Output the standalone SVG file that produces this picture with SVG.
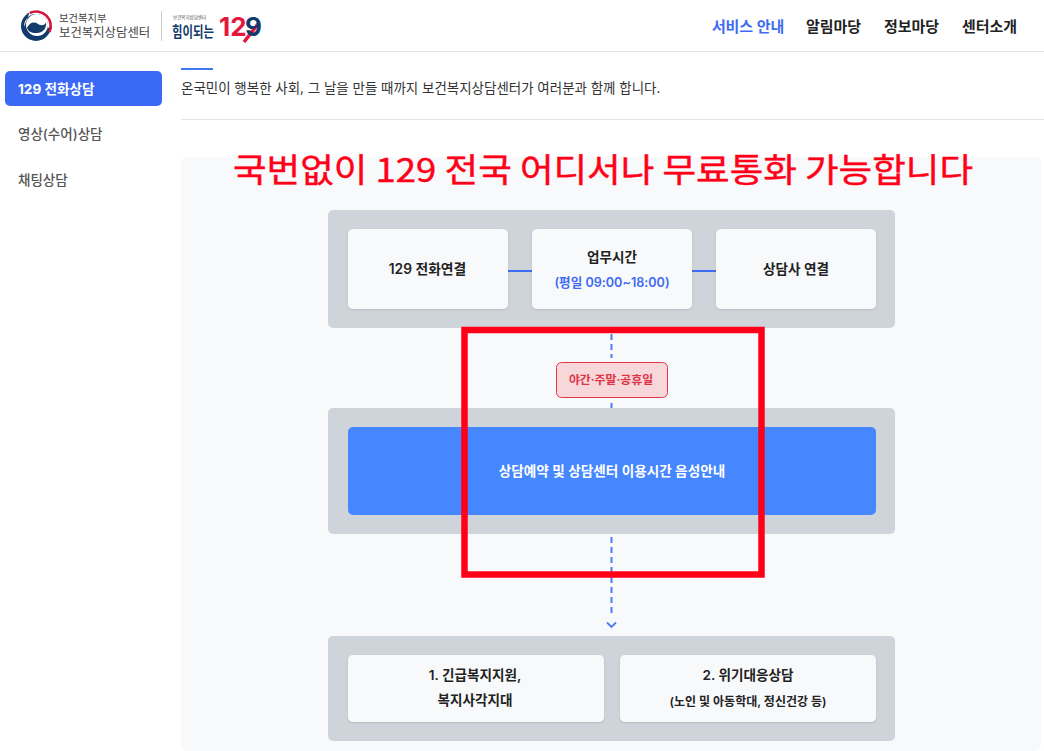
<svg xmlns="http://www.w3.org/2000/svg" width="1044" height="751" viewBox="0 0 1044 751">
<style>
text{font-family:"Inter","Noto Sans CJK KR",sans-serif;text-anchor:middle;fill:#222}
.b{font-weight:600;font-size:13.600px}
.gray{fill:#cfd4da}
.white{fill:#f8f9fb;filter:url(#sh)}
.nav{font-weight:600;font-size:15px;letter-spacing:-.1px}
.side{font-size:13.500px;fill:#555;font-weight:500;text-anchor:start}
.dash{stroke:#4d7cf5;stroke-width:2;stroke-dasharray:6 4;fill:none}
</style>
<defs><filter id="sh" x="-5%" y="-5%" width="110%" height="110%"><feDropShadow dx="0" dy="1" stdDeviation="1" flood-color="#000" flood-opacity=".12"/></filter></defs>
<rect width="1044" height="751" fill="#fff"/>
<g id="header">
<rect y="51" width="1044" height="1" fill="#e4e4e4"/>
<g id="emblem">
<circle cx="36" cy="26" r="15" fill="#123a6b"/>
<path d="M24 27C24 18 31 13.500 37 14C44 14.500 49 20 48 28L51.500 26A15.500 15.500 0 0 0 30 11.500Z" fill="#fff"/>
<circle cx="37" cy="25" r="11" fill="#fff"/>
<path d="M27 28C29 23 34 21 38 24C41 26 45 26 46 22C47 29 42 33.500 36 33C31 33 28 31 27 28Z" fill="#123a6b"/>
<path d="M30 13A14.500 14.500 0 0 1 49.500 32" stroke="#d4143a" stroke-width="2.600" fill="none"/>
</g>
<text x="59" y="22" style="text-anchor:start;font-size:10.300px;fill:#444">보건복지부</text>
<text x="59" y="37" style="text-anchor:start;font-size:12.400px;fill:#444">보건복지상담센터</text>
<rect x="161" y="11" width="1" height="30" fill="#ccc"/>
<text x="173" y="19" style="text-anchor:start;font-size:4.500px;fill:#444">보건복지상담센터</text>
<text transform="translate(172 37) scale(1 1.3)" style="text-anchor:start;font-size:11.400px;font-weight:700;fill:#123a6b">힘이되는</text>
<path d="M258 24L244 42" stroke="#e3173e" stroke-width="3.500" fill="none"/>
<text x="219" y="36" style="text-anchor:start;font-size:26px;font-weight:700;fill:#e3173e">12</text>
<text x="245" y="36" style="text-anchor:start;font-size:26px;font-weight:700;fill:#123a6b">9</text>
<text x="748" y="32" class="nav" style="fill:#3d6bf2">서비스 안내</text>
<text x="833.500" y="32" class="nav">알림마당</text>
<text x="911.500" y="32" class="nav">정보마당</text>
<text x="989.500" y="32" class="nav">센터소개</text>
</g>
<g id="sidebar">
<rect x="5" y="71" width="157" height="35" rx="5" fill="#3a69f5"/>
<text x="18" y="94" class="side" style="fill:#fff;font-weight:700;font-size:13.600px">129 전화상담</text>
<text x="18" y="139" class="side">영상(수어)상담</text>
<text x="18" y="185" class="side">채팅상담</text>
</g>
<g id="intro">
<rect x="181" y="68" width="32" height="2" fill="#3f77f5"/>
<text x="181" y="93" style="text-anchor:start;font-size:13.480px;fill:#333">온국민이 행복한 사회, 그 날을 만들 때까지 보건복지상담센터가 여러분과 함께 합니다.</text>
<rect x="181" y="119" width="863" height="1" fill="#e4e4e4"/>
</g>
<rect id="panel" x="181" y="157" width="860" height="594" rx="6" fill="#f8f9fb"/>
<rect class="gray" x="328" y="210" width="567" height="118" rx="5"/>
<rect class="gray" x="328" y="408" width="567" height="126" rx="5"/>
<rect class="gray" x="328" y="636" width="567" height="105" rx="5"/>
<g id="connectors">
<path d="M508 271H532M692 271H716" stroke="#3d6bf2" stroke-width="2" fill="none"/>
<path class="dash" d="M611.500 334V358M611.500 403V408"/>
<path class="dash" d="M611.500 537V616"/>
<path d="M607 622.500L611.500 627L616 622.500" stroke="#4d7cf5" stroke-width="1.800" fill="none"/>
</g>
<g id="n1"><rect class="white" x="348" y="229" width="160" height="80" rx="5"/><text x="427.500" y="274" class="b" style="font-size:13.800px">129 전화연결</text></g>
<g id="n2"><rect class="white" x="532" y="229" width="160" height="80" rx="5"/><text x="612" y="262" class="b">업무시간</text><text x="612" y="287" style="font-size:12.600px;font-weight:600;fill:#3d6bf2">(평일 09:00~18:00)</text></g>
<g id="n3"><rect class="white" x="716" y="229" width="160" height="80" rx="5"/><text x="796" y="274" class="b">상담사 연결</text></g>
<g id="n4"><rect x="556.500" y="362.500" width="111" height="35" rx="5" fill="#f8d7da" stroke="#e2344a"/><text x="611" y="384" style="font-size:11.900px;font-weight:600;fill:#dc3545">야간·주말·공휴일</text></g>
<g id="n5"><rect x="348" y="427" width="528" height="88" rx="5" fill="#4686ff"/><text x="612" y="476" class="b" style="fill:#fff">상담예약 및 상담센터 이용시간 음성안내</text></g>
<g id="n6"><rect class="white" x="348" y="655" width="256" height="67" rx="5"/><text x="475" y="680" class="b">1. 긴급복지지원,</text><text x="475" y="705" class="b">복지사각지대</text></g>
<g id="n7"><rect class="white" x="620" y="655" width="256" height="67" rx="5"/><text x="748" y="680" class="b">2. 위기대응상담</text><text x="748" y="706" style="font-size:12px;font-weight:600">(노인 및 아동학대, 정신건강 등)</text></g>
<text id="headline" x="603" y="182" textLength="740" lengthAdjust="spacingAndGlyphs" style="font-size:33px;font-family:'Noto Sans CJK KR',sans-serif;fill:#ff0018;font-weight:400;stroke:#ff0018;stroke-width:.4px">국번없이 129 전국 어디서나 무료통화 가능합니다</text>
<rect id="highlight" x="464.500" y="330" width="297" height="244.500" fill="none" stroke="#ff0018" stroke-width="6.500"/>
</svg>
